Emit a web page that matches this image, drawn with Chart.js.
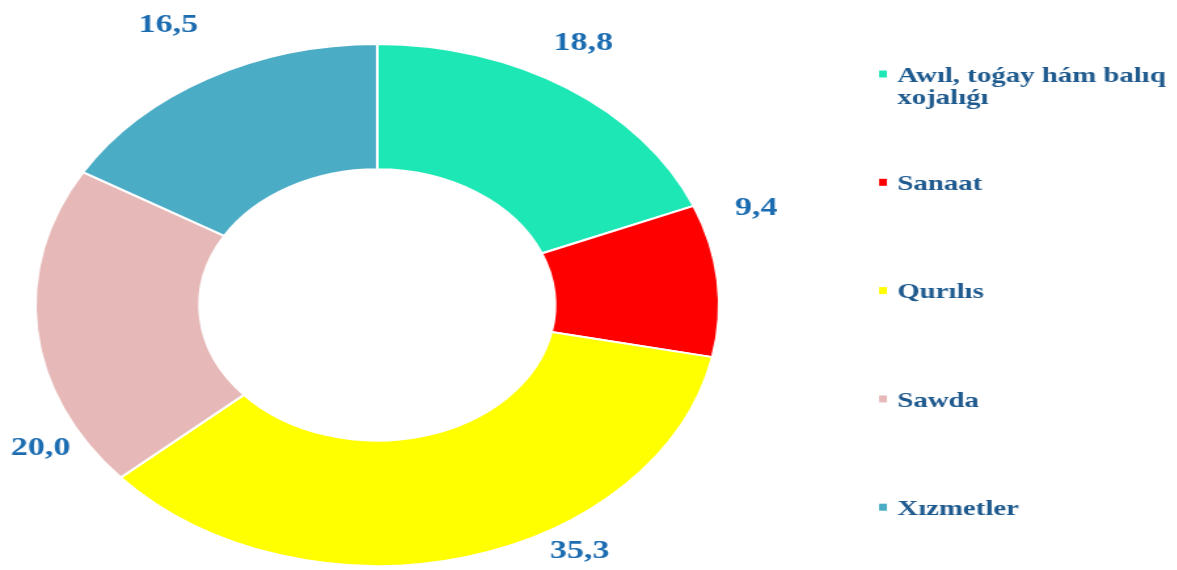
<!DOCTYPE html>
<html>
<head>
<meta charset="utf-8">
<script src="https://cdn.jsdelivr.net/npm/chart.js@4/dist/chart.umd.min.js"></script>
<style>
html, body { margin: 0; padding: 0; background: #ffffff; overflow: hidden; width: 1177px; height: 570px; }
#wrap { position: absolute; left: 0; top: 0; width: 898px; height: 570px; transform: scaleX(1.31); transform-origin: 0 0; }
</style>
</head>
<body>
<div id="wrap"><canvas id="chart"></canvas></div>
<script>
// ---- data ----
const categories = ["Awıl, toǵay hám balıq xojalıǵı", "Sanaat", "Qurılıs", "Sawda", "Xızmetler"];
const values = [18.8, 9.4, 35.3, 20.0, 16.5];
const sliceColors = ["#1de8b5", "#ff0000", "#ffff00", "#e6b9b8", "#4bacc6"];

const fmt = v => v.toFixed(1).replace('.', ',');
const SERIF = "'Liberation Serif', 'Times New Roman', 'DejaVu Serif', serif";

// value labels placed outside the ring, around each slice's mid-angle
const valueLabelPlugin = {
  id: 'valueLabels',
  afterDatasetsDraw(chart, args, opts) {
    const ctx = chart.ctx;
    const meta = chart.getDatasetMeta(0);
    const data = chart.data.datasets[0].data;
    ctx.save();
    ctx.font = opts.font;
    ctx.fillStyle = opts.color;
    ctx.textAlign = 'center';
    ctx.textBaseline = 'middle';
    meta.data.forEach((arc, i) => {
      const p = arc.getProps(['x', 'y', 'startAngle', 'endAngle', 'outerRadius'], true);
      const a = (p.startAngle + p.endAngle) / 2 + (opts.shift[i] || 0) * Math.PI / 180;
      const r = p.outerRadius + (opts.gap[i] || 0);
      ctx.fillText(fmt(data[i]), p.x + Math.cos(a) * r, p.y + Math.sin(a) * r);
    });
    ctx.restore();
  }
};

// legend on the right with wrapped labels and evenly spaced rows
const sideLegendPlugin = {
  id: 'sideLegend',
  afterDraw(chart, args, opts) {
    const ctx = chart.ctx;
    const labels = chart.data.labels;
    const colors = chart.data.datasets[0].backgroundColor;
    ctx.save();
    ctx.font = opts.font;
    ctx.textAlign = 'left';
    ctx.textBaseline = 'middle';
    const wrap = (text) => {
      const words = text.split(' ');
      const lines = [];
      let cur = '';
      words.forEach(w => {
        const test = cur ? cur + ' ' + w : w;
        if (cur && ctx.measureText(test).width > opts.maxWidth) { lines.push(cur); cur = w; }
        else cur = test;
      });
      if (cur) lines.push(cur);
      return lines;
    };
    labels.forEach((label, i) => {
      const y = opts.top + i * opts.step;
      ctx.fillStyle = colors[i];
      ctx.fillRect(opts.left, y - opts.boxH / 2 - 2, opts.boxW, opts.boxH);
      ctx.fillStyle = opts.color;
      wrap(label).forEach((ln, k) => {
        ctx.fillText(ln, opts.left + opts.textOffset, y + k * opts.lineHeight);
      });
    });
    ctx.restore();
  }
};

new Chart(document.getElementById('chart'), {
  type: 'doughnut',
  data: {
    labels: categories,
    datasets: [{
      data: values,
      backgroundColor: sliceColors,
      borderColor: '#ffffff',
      borderWidth: 2
    }]
  },
  options: {
    responsive: true,
    maintainAspectRatio: false,
    animation: false,
    events: [],
    cutout: '52%',
    rotation: 0,
    layout: { padding: { left: 26, right: 348, top: 43, bottom: 3 } },
    plugins: {
      legend: { display: false },
      tooltip: { enabled: false },
      valueLabels: {
        font: "bold 26px " + SERIF,
        color: '#1b6cb0',
        shift: [-2.8, -13.1, -17.1, -23.7, 0],
        gap: [44, 44, 30, 33, 61]
      },
      sideLegend: {
        font: "bold 22px " + SERIF,
        color: '#1f5a8e',
        left: 671,
        textOffset: 14,
        top: 76,
        step: 108.3,
        lineHeight: 22,
        boxW: 6,
        boxH: 7,
        maxWidth: 225
      }
    }
  },
  plugins: [valueLabelPlugin, sideLegendPlugin]
});
</script>
</body>
</html>
